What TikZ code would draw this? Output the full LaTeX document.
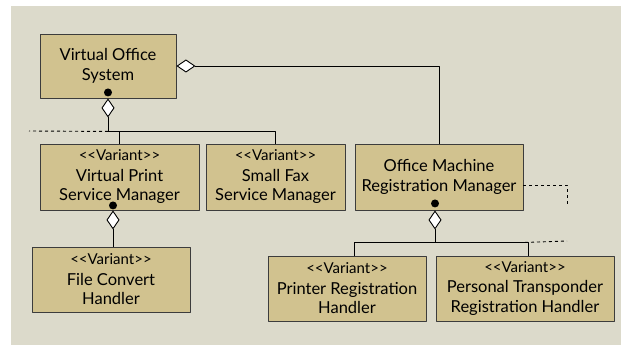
\documentclass[tikz,border=0pt]{standalone}
\usepackage{fontspec}
\setmainfont{Lato}
\usetikzlibrary{arrows.meta}

\definecolor{panel}{HTML}{DCDACB}
\definecolor{boxtan}{HTML}{D1C28F}
\definecolor{edge}{HTML}{3C3C3C}

\tikzset{
  comp/.style={draw=edge, fill=boxtan, line width=0.9pt, align=center, inner sep=2pt,
    font=\fontsize{16.5}{19.5}\selectfont},
  link/.style={draw=black, line width=0.9pt},
  hole/.style={link, dash pattern=on 3pt off 3pt},
  agg/.style={link, {Diamond[fill=white, length=19pt, width=13pt]}-},
}
\newcommand{\variant}{{\fontsize{15}{17}\selectfont<{}<Variant>{}>}\\[1pt]}

\begin{document}
\begin{tikzpicture}[x=1pt, y=-1pt, line join=round]
  \useasboundingbox (0,0) rectangle (621,345);
  \fill[panel] (11,6) rectangle (621,345);

  % components
  \node[comp, minimum width=136pt, minimum height=64pt] (vos)  at (108,66)    {Virtual Office\\System};
  \node[comp, minimum width=159pt, minimum height=66pt] (vpsm) at (119.5,177) {\variant Virtual Print\\Service Manager};
  \node[comp, minimum width=139pt, minimum height=66pt] (sfsm) at (275.5,177) {\variant Small Fax\\Service Manager};
  \node[comp, minimum width=168pt, minimum height=66pt] (omrm) at (439,177)   {Office Machine\\Registration Manager};
  \node[comp, minimum width=158pt, minimum height=65pt] (fch)  at (111,279.5) {\variant File Convert\\Handler};
  \node[comp, minimum width=158pt, minimum height=65pt] (prh)  at (347,288.5) {\variant Printer Registration\\Handler};
  \node[comp, minimum width=178pt, minimum height=65pt] (ptrh) at (525,288.5) {\variant Personal Transponder\\Registration Handler};

  % loose ends of the dashed links
  \coordinate (vstub) at (29,131);
  \coordinate (ostub) at (567,241);
  \coordinate (rstub) at (567,207);

  % virtual office system
  \draw[agg] (vos.south) -- ++(0,33) coordinate (vsplit);
  \draw[link] (vsplit) -| (vpsm.north);
  \draw[link] (vsplit) -| (sfsm.north);
  \draw[hole] (vsplit) -- (vstub);
  \fill ([yshift=6pt]vos.south) circle (4pt);
  \draw[agg] (vos.east) -| (omrm.north);

  % print service
  \draw[agg] ([xshift=-6.5pt]vpsm.south) -- ([xshift=-6.5pt]vpsm.south |- fch.north);
  \fill ([xshift=-6.5pt,yshift=5pt]vpsm.south) circle (4pt);

  % registration manager
  \draw[agg] ([xshift=-4pt]omrm.south) -- ++(0,32) coordinate (osplit);
  \draw[link] (osplit) -| ([xshift=7pt]prh.north);
  \draw[link] (osplit) -| ([xshift=3pt]ptrh.north);
  \draw[hole] (ptrh.north |- osplit) -- (ostub);
  \fill ([xshift=-4pt,yshift=7pt]omrm.south) circle (4pt);
  \draw[hole] ([yshift=-8pt]omrm.east) -| (rstub);
\end{tikzpicture}
\end{document}
